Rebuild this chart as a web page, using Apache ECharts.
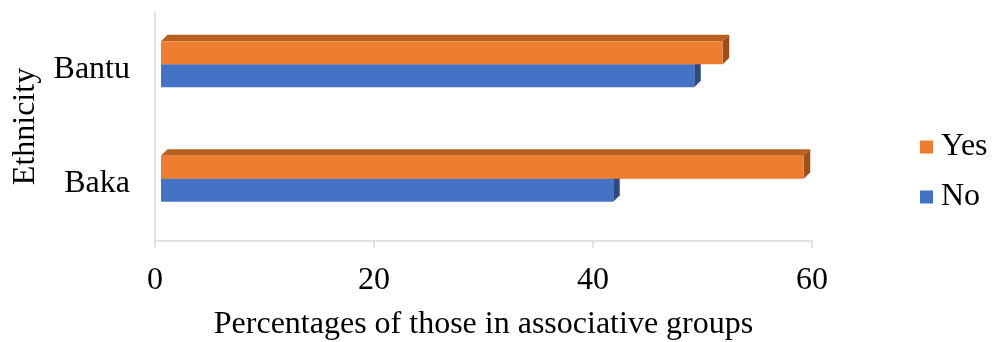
<!DOCTYPE html>
<html>
<head>
<meta charset="utf-8">
<script src="https://cdn.jsdelivr.net/npm/echarts@6/dist/echarts.min.js"></script>
<style>
  html, body { margin: 0; padding: 0; background: #fff; }
  #chart { width: 995px; height: 342px; }
</style>
</head>
<body>
<div id="chart"></div>
<script>
// Ethnic groups, bottom to top on the category axis
const categories = ['Baka', 'Bantu'];
// Share (%) of respondents in associative groups
const yesValues = [58.7, 51.3];
const noValues = [41.3, 48.7];
const xTicks = [0, 20, 40, 60];

const FONT = "'Liberation Serif', 'Times New Roman', serif";
const FONT_SIZE = 32;

// Colours for each series: front, top and side faces of the 3D-looking bars
const palettes = {
  Yes: { front: '#ED7D31', top: '#B8601F', side: '#9C4F18' },
  No:  { front: '#4472C4', top: '#3A62A8', side: '#2C4A80' }
};

// Shape of a bar: thickness as a share of the category band, and depth offset
const BAR_SHARE = 0.2;
const DEPTH = 6.5;
const SHIFT_X = 6;   // front face is pushed right from the axis
const SHIFT_Y = -5;  // and up from the band centre

function makeRenderer(name, above) {
  const pal = palettes[name];
  return function (params, api) {
    const val = api.value(0);
    const cat = api.value(1);
    const start = api.coord([0, cat]);
    const end = api.coord([val, cat]);
    const band = api.size([0, 1])[1];
    const h = band * BAR_SHARE;
    const x0 = start[0] + SHIFT_X;
    const x1 = end[0] + SHIFT_X;
    const yMid = start[1] + SHIFT_Y;
    const yTop = above ? yMid - h : yMid;
    const yBot = yTop + h;
    return {
      type: 'group',
      children: [
        {
          type: 'polygon',
          shape: { points: [[x0, yTop], [x1, yTop], [x1 + DEPTH, yTop - DEPTH], [x0 + DEPTH, yTop - DEPTH]] },
          style: { fill: pal.top }
        },
        {
          type: 'polygon',
          shape: { points: [[x1, yTop], [x1 + DEPTH, yTop - DEPTH], [x1 + DEPTH, yBot - DEPTH], [x1, yBot]] },
          style: { fill: pal.side }
        },
        {
          type: 'rect',
          shape: { x: x0, y: yTop, width: x1 - x0, height: h },
          style: { fill: pal.front }
        }
      ]
    };
  };
}

const chart = echarts.init(document.getElementById('chart'), null, { renderer: 'canvas' });

chart.setOption({
  animation: false,
  backgroundColor: '#fff',
  grid: { left: 155, right: 183, top: 12, bottom: 101, containLabel: false, outerBoundsMode: 'none' },
  legend: {
    orient: 'vertical',
    left: 915,
    top: 126,
    itemWidth: 13,
    itemHeight: 13,
    itemGap: 18,
    icon: 'rect',
    data: ['Yes', 'No'],
    textStyle: { fontFamily: FONT, fontSize: FONT_SIZE, color: '#000', lineHeight: 32, padding: [0, 0, 0, 3] }
  },
  xAxis: {
    type: 'value',
    min: xTicks[0],
    max: xTicks[xTicks.length - 1],
    interval: xTicks[1] - xTicks[0],
    name: 'Percentages of those in associative groups',
    nameLocation: 'middle',
    nameGap: 68,
    nameTextStyle: { fontFamily: FONT, fontSize: FONT_SIZE, color: '#000' },
    axisLine: { show: true, lineStyle: { color: '#D9D9D9', width: 1.5 } },
    axisTick: { show: true, length: 7, lineStyle: { color: '#D9D9D9', width: 1.5 } },
    splitLine: { show: false },
    axisLabel: { fontFamily: FONT, fontSize: FONT_SIZE, color: '#000', margin: 24 }
  },
  yAxis: {
    type: 'category',
    data: categories,
    name: 'Ethnicity',
    nameLocation: 'middle',
    nameGap: 113,
    nameRotate: 90,
    nameTextStyle: { fontFamily: FONT, fontSize: FONT_SIZE, color: '#000' },
    axisLine: { show: true, lineStyle: { color: '#D9D9D9', width: 1.5 } },
    axisTick: { show: false },
    axisLabel: { fontFamily: FONT, fontSize: FONT_SIZE, color: '#000', margin: 25 }
  },
  series: [
    {
      name: 'No',
      type: 'custom',
      clip: false,
      color: palettes.No.front,
      encode: { x: 0, y: 1 },
      data: noValues.map((v, i) => [v, categories[i]]),
      renderItem: makeRenderer('No', false)
    },
    {
      name: 'Yes',
      type: 'custom',
      clip: false,
      color: palettes.Yes.front,
      encode: { x: 0, y: 1 },
      data: yesValues.map((v, i) => [v, categories[i]]),
      renderItem: makeRenderer('Yes', true)
    }
  ]
});
</script>
</body>
</html>
